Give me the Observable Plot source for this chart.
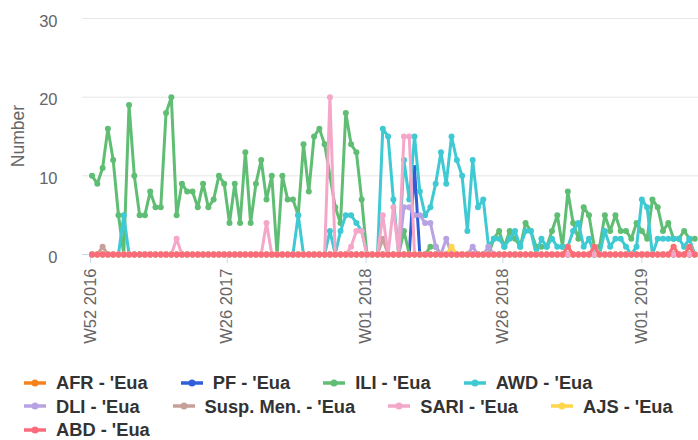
<!DOCTYPE html>
<html><head><meta charset="utf-8">
<script src="https://cdn.jsdelivr.net/npm/d3@7"></script>
<script src="https://cdn.jsdelivr.net/npm/@observablehq/plot@0.6"></script>
<style>
body{margin:0;background:#fff;font-family:"Liberation Sans",Arial,sans-serif;}
#legend{display:flex;flex-wrap:wrap;padding:11px 0 0 24px;width:670px;column-gap:33px;font-weight:bold;font-size:18.3px;color:#333;line-height:23.5px}
.item{display:flex;align-items:center;white-space:nowrap}
.item svg{margin-right:10px}
</style></head><body>
<div id="chart"></div><div id="legend"></div>
<script>
// first week of data and weekly categories
const firstWeek = "2017-01-07";
// tick positions (half-year boundaries) and their ISO-week labels
const tickDates = ["2017-01-01","2017-07-01","2018-01-01","2018-07-01","2019-01-01"];
const tickLabels = ["W52 2016","W26 2017","W01 2018","W26 2018","W01 2019"];

const afr = [
0,0,0,0,0,0,0,0,0,0, 0,0,0,0,0,0,0,0,0,0, 0,0,0,0,0,0,0,0,0,0, 0,0,0,0,0,0,0,0,0,0,
0,0,0,0,0,0,0,0,0,0, 0,0,0,0,0,0,0,0,0,0, 0,0,0,0,0,0,0,0,0,0, 0,0,0,0,0,0,0,0,0,0,
0,0,0,0,0,0,0,0,0,0, 0,0,0,0,0,0,0,0,0,0, 0,0,0,0,0,0,0,0,0,0, 0,0,0,0,0];
const pf = [
0,0,0,0,0,0,0,0,0,0, 0,0,0,0,0,0,0,0,0,0, 0,0,0,0,0,0,0,0,0,0, 0,0,0,0,0,0,0,0,0,0,
0,0,0,0,0,0,0,0,0,0, 0,0,0,0,0,0,0,0,0,0, 0,11,0,0,0,0,0,0,0,0, 0,0,0,0,0,0,0,0,0,0,
0,0,0,0,0,0,0,0,0,0, 0,0,0,0,0,0,0,0,0,0, 0,0,0,0,0,0,0,0,0,0, 0,0,0,0,0];
const ili = [
10,9,11,16,12,5,0,19,10,5, 5,8,6,6,18,20,5,9,8,8, 6,9,6,7,10,9,4,9,4,13, 4,9,12,7,10,0,10,7,7,5,
14,8,15,16,14,10,6,4,18,14, 13,7,0,0,0,0,0,0,0,3, 0,0,0,0,1,1,0,0,0,0, 0,0,0,0,0,0,2,3,1,3,
2,1,4,3,1,1,1,3,5,1, 8,4,2,6,5,1,1,5,3,5, 3,3,2,4,3,2,7,6,3,4, 2,2,3,2,2];
const awd = [
0,0,0,0,0,0,5,0,0,0, 0,0,0,0,0,0,0,0,0,0, 0,0,0,0,0,0,0,0,0,0, 0,0,0,0,0,0,0,0,0,5,
0,0,0,0,0,3,0,3,5,5, 4,3,0,0,0,16,15,7,0,12, 7,15,8,5,6,9,13,9,15,12, 10,3,12,6,7,1,2,2,1,2,
3,1,3,3,0,2,1,2,1,1, 1,3,4,1,2,0,0,3,1,2, 2,1,0,1,7,6,0,2,2,2, 2,2,1,2,0];
const dli = [
0,0,0,0,0,0,0,0,0,0, 0,0,0,0,0,0,0,0,0,0, 0,0,0,0,0,0,0,0,0,0, 0,0,0,0,0,0,0,0,0,0,
0,0,0,0,0,0,0,0,0,0, 0,0,0,0,0,0,0,0,0,6, 6,5,5,4,4,1,0,2,0,0, 0,0,1,0,0,1,0,0,0,0,
0,0,0,0,0,0,0,0,0,0, 0,0,0,0,0,0,0,0,0,0, 0,0,0,0,0,0,0,0,0,0, 0,0,0,0,0];
const suspMen = [
0,0,1,0,0,0,0,0,0,0, 0,0,0,0,0,0,0,0,0,0, 0,0,0,0,0,0,0,0,0,0, 0,0,0,0,0,0,0,0,0,0,
0,0,0,0,0,0,0,0,0,0, 0,0,0,0,0,2,0,0,0,0, 0,0,0,0,0,0,0,0,0,0, 0,0,0,0,0,0,0,0,0,0,
0,0,0,0,0,0,0,0,0,0, 0,0,0,0,0,0,0,0,0,0, 0,0,0,0,0,0,0,0,0,0, 0,0,0,0,0];
const sari = [
0,0,0,0,0,0,0,0,0,0, 0,0,0,0,0,0,2,0,0,0, 0,0,0,0,0,0,0,0,0,0, 0,0,0,4,0,0,0,0,0,0,
0,0,0,0,0,20,0,0,0,1, 3,3,0,0,0,5,0,6,0,15, 15,0,0,0,0,0,0,0,0,0, 0,0,0,0,0,0,0,0,0,0,
0,0,0,0,0,0,0,0,0,0, 0,0,0,0,0,0,0,0,0,0, 0,0,0,0,0,0,0,0,0,0, 0,0,0,0,0];
const ajs = [
0,0,0,0,0,0,0,0,0,0, 0,0,0,0,0,0,0,0,0,0, 0,0,0,0,0,0,0,0,0,0, 0,0,0,0,0,0,0,0,0,0,
0,0,0,0,0,0,0,0,0,0, 0,0,0,0,0,0,0,0,0,0, 0,0,0,0,0,0,0,0,1,0, 0,0,0,0,0,0,0,0,0,0,
0,0,0,0,0,0,0,0,0,0, 1,0,0,0,0,1,0,0,0,0, 0,0,0,0,0,0,0,0,0,0, 1,0,0,1,0];
const abd = [
0,0,0,0,0,0,0,0,0,0, 0,0,0,0,0,0,0,0,0,0, 0,0,0,0,0,0,0,0,0,0, 0,0,0,0,0,0,0,0,0,0,
0,0,0,0,0,0,0,0,0,0, 0,0,0,0,0,0,0,0,0,0, 0,0,0,0,0,0,0,0,0,0, 0,0,0,0,0,0,0,0,0,0,
0,0,0,0,0,0,0,0,0,0, 1,0,0,0,0,1,0,0,0,0, 0,0,0,0,0,0,0,0,0,0, 1,0,0,1,0];

const seriesNames = ["AFR - 'Eua","PF - 'Eua","ILI - 'Eua","AWD - 'Eua","DLI - 'Eua","Susp. Men. - 'Eua","SARI - 'Eua","AJS - 'Eua","ABD - 'Eua"];
const seriesValues = [afr, pf, ili, awd, dli, suspMen, sari, ajs, abd];
const seriesColors = ["#f7821b","#2f5fd8","#5fbe73","#3ec9d3","#b7a3e3","#c8a09a","#f4a7c9","#ffd54a","#fb6b7b"];

const start = new Date(firstWeek + "T00:00:00Z");
const weeks = ili.map((_, i) => d3.utcDay.offset(start, 7 * i));
const tickTimes = tickDates.map(d => new Date(d + "T00:00:00Z"));
const labelOf = new Map(tickTimes.map((t, i) => [+t, tickLabels[i]]));

const seriesMarks = seriesNames.flatMap((name, k) => {
  const rows = seriesValues[k].map((v, i) => ({x: weeks[i], y: v}));
  return [
    Plot.lineY(rows, {x: "x", y: "y", stroke: seriesColors[k], strokeWidth: 3, strokeLinejoin: "round", strokeLinecap: "round"}),
    Plot.dot(rows, {x: "x", y: "y", r: 3, fill: seriesColors[k], stroke: "none"})
  ];
});

const chart = Plot.plot({
  width: 698, height: 360,
  marginLeft: 82, marginRight: 0, marginTop: 18, marginBottom: 106,
  style: {fontFamily: "'Liberation Sans', Arial, sans-serif", background: "white", overflow: "visible"},
  x: {type: "utc", domain: [new Date("2016-12-25T09:00:00Z"), new Date("2019-03-21T00:00:00Z")]},
  y: {domain: [0, 30]},
  marks: [
    Plot.gridY([10, 20, 30], {stroke: "#e6e6e6", strokeOpacity: 1, strokeWidth: 1}),
    Plot.axisY({ticks: [0, 10, 20, 30], tickSize: 0, tickPadding: 25, fontSize: 16.5, fill: "#666", dy: 3, label: null}),
    Plot.axisX({ticks: tickTimes, tickFormat: d => labelOf.get(+d), tickRotate: -90, tickSize: 9, tickPadding: 5,
      stroke: "#ccd6eb", fill: "#666", fontSize: 16.5, dx: 3, label: null}),
    Plot.ruleY([0], {stroke: "#ccd6eb", strokeWidth: 1}),
    ...seriesMarks
  ]
});

d3.select(chart).append("text")
  .attr("transform", "translate(17.5,136) rotate(-90)")
  .attr("text-anchor", "middle").attr("dominant-baseline", "central")
  .attr("fill", "#666").attr("font-size", 17.5).text("Number");

document.getElementById("chart").appendChild(chart);

const legend = d3.select("#legend");
seriesNames.forEach((name, k) => {
  const item = legend.append("div").attr("class", "item");
  const svg = item.append("svg").attr("width", 22).attr("height", 12);
  svg.append("line").attr("x1", 0).attr("x2", 22).attr("y1", 6).attr("y2", 6)
    .attr("stroke", seriesColors[k]).attr("stroke-width", 3.5);
  svg.append("circle").attr("cx", 11).attr("cy", 6).attr("r", 3.5).attr("fill", seriesColors[k]);
  item.append("span").text(name);
});
</script></body></html>
